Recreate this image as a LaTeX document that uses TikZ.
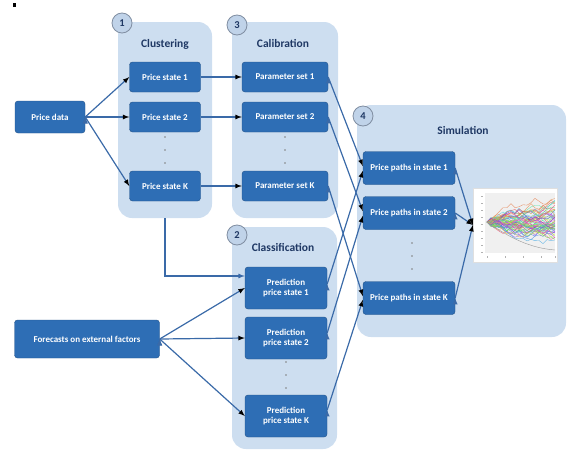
\documentclass[tikz,border=0pt]{standalone}
\usepackage{fontspec}
\setmainfont{Carlito}
\usetikzlibrary{arrows}

\definecolor{boxblue}{RGB}{46,110,181}
\definecolor{panelblue}{RGB}{205,222,240}
\definecolor{ringblue}{RGB}{192,211,233}
\definecolor{ringgray}{RGB}{128,142,162}
\definecolor{titlenavy}{RGB}{31,56,100}
\definecolor{flowblue}{RGB}{58,106,168}

\tikzset{
  panel/.style={rounded corners=14pt, fill=panelblue, inner sep=0pt},
  statebox/.style={rounded corners=3pt, fill=boxblue, draw=boxblue!75!black, line width=0.4pt,
    text=white, font=\fontsize{9}{10.5}\selectfont\bfseries, align=center,
    minimum height=30pt, inner sep=2pt},
  numring/.style={circle, fill=ringblue, draw=ringgray, line width=0.8pt, minimum size=20pt,
    inner sep=0pt, text=titlenavy, font=\fontsize{10.5}{12}\selectfont\bfseries},
  paneltitle/.style={text=titlenavy, font=\fontsize{11.5}{13}\selectfont\bfseries},
  flow/.style={-latex, draw=flowblue, line width=1.2pt},
}

\begin{document}
\begin{tikzpicture}[x=1pt,y=-1pt]
  \useasboundingbox (0,0) rectangle (567,450);
  \fill (13,3) rectangle (16,7);

  % background panels
  \draw (165,120) node[panel, minimum width=94pt, minimum height=196pt] (clusterbg) {};
  \draw (285,120) node[panel, minimum width=106pt, minimum height=196pt] (calibbg) {};
  \draw (284.5,338) node[panel, minimum width=105pt, minimum height=222pt] (classbg) {};
  \draw (461.5,221) node[panel, minimum width=209pt, minimum height=232pt] (simbg) {};

  \draw (122,23) node[numring] (one) {1};
  \draw (237,25) node[numring] (three) {3};
  \draw (237,235) node[numring] (two) {2};
  \draw (363,116) node[numring] (four) {4};

  \draw (165,44) node[paneltitle] (clustering) {Clustering};
  \draw (283,43) node[paneltitle] (calibration) {Calibration};
  \draw (283,247) node[paneltitle] (classification) {Classification};
  \draw (463,130) node[paneltitle] (simulation) {Simulation};

  % inputs
  \draw (50,117) node[statebox, minimum width=70pt, minimum height=32pt] (pricedata) {Price data};
  \draw (87,339) node[statebox, minimum width=145pt, minimum height=38pt] (forecasts) {Forecasts on external factors};

  % clustering
  \draw (165,77) node[statebox, minimum width=71pt] (state1) {Price state 1};
  \draw (165,117) node[statebox, minimum width=71pt] (state2) {Price state 2};
  \draw (165,186) node[statebox, minimum width=71pt] (stateK) {Price state K};

  % calibration
  \draw (285,77) node[statebox, minimum width=86pt] (param1) {Parameter set 1};
  \draw (285,117) node[statebox, minimum width=86pt] (param2) {Parameter set 2};
  \draw (285,186) node[statebox, minimum width=86pt] (paramK) {Parameter set K};

  % classification
  \draw (286,288) node[statebox, minimum width=82pt, minimum height=42pt] (pred1) {Prediction\\price state 1};
  \draw (286,338) node[statebox, minimum width=82pt, minimum height=42pt] (pred2) {Prediction\\price state 2};
  \draw (286,416) node[statebox, minimum width=82pt, minimum height=42pt] (predK) {Prediction\\price state K};

  % simulation
  \draw (409,168) node[statebox, minimum width=92pt, minimum height=33pt] (paths1) {Price paths in state 1};
  \draw (409,213) node[statebox, minimum width=92pt, minimum height=33pt] (paths2) {Price paths in state 2};
  \draw (409,298) node[statebox, minimum width=92pt, minimum height=33pt] (pathsK) {Price paths in state K};

  \foreach \yy in {137,150,163} {
    \fill[gray] (165,\yy) circle (0.8);
    \fill[gray] (285,\yy) circle (0.8);
  }
  \foreach \yy in {362,375,388} \fill[gray] (286,\yy) circle (0.8);
  \foreach \yy in {243,256,269} \fill[gray] (412,\yy) circle (0.8);

  % chart of simulated paths
  \draw (515,225) node[rectangle, fill=white, draw=gray!25, line width=0.3pt,
    minimum width=84pt, minimum height=74pt] (chart) {};
  \fill[gray!12] (485,193) rectangle (555,253);
  \foreach \yy in {196,203,210,217,224,231,238,245,252} \draw[gray!60, line width=0.3pt] (481,\yy) -- (483,\yy);
  \foreach \xx in {487,505,523,541,555} \draw[gray!60, line width=0.3pt] (\xx,256) -- (\xx,258);
  \pgfmathsetseed{11}
  \begin{scope}
    \clip (485,193) rectangle (555,253);
    \foreach \k in {1,...,60} {
      \pgfmathsetmacro\hh{mod(\k*0.137,1)}
      \definecolor{pathcol}{hsb}{\hh,0.7,0.9}
      \draw[pathcol, line width=0.35pt, opacity=0.85] (487,222)
        \foreach \j in {1,...,17} { -- ++(4,{4.5*rand}) };
    }
    \draw[gray!80, line width=0.4pt] (487,222) .. controls (510,238) and (530,248) .. (555,250);
  \end{scope}

  % connectors
  \path[flow] (pricedata.east) edge (state1.west);
  \path[flow] (pricedata.east) edge (state2.west);
  \path[flow] (pricedata.east) edge (stateK.west);

  \path[flow] (state1) edge (param1);
  \path[flow] (state2) edge (param2);
  \path[flow] (stateK) edge (paramK);

  \draw[flow] (clusterbg.south) |- ([yshift=12pt]pred1.west);

  \path[flow] (forecasts.east) edge (pred1.west);
  \path[flow] (forecasts.east) edge (pred2.west);
  \path[flow] (forecasts.east) edge (predK.west);

  \path[flow] (param1.east) edge ([yshift=2pt]paths1.west);
  \path[flow] (param2.east) edge ([yshift=2pt]paths2.west);
  \path[flow] (paramK.east) edge ([yshift=2pt]pathsK.west);

  \path[flow] ([yshift=4pt]pred1.east) edge ([yshift=-3pt]paths1.west);
  \path[flow] ([yshift=5pt]pred2.east) edge ([yshift=-3pt]paths2.west);
  \path[flow] ([yshift=6pt]predK.east) edge ([yshift=-2pt]pathsK.west);

  \path[flow] (paths1.east) edge (chart.west);
  \path[flow] (paths2.east) edge (chart.west);
  \path[flow] (pathsK.east) edge (chart.west);
\end{tikzpicture}
\end{document}
